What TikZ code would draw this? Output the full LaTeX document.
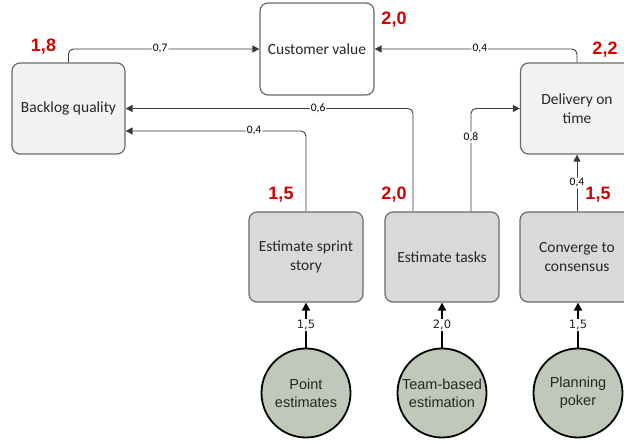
\documentclass[tikz,border=0pt]{standalone}
\usepackage{fontspec}
\setmainfont{Carlito}
\newfontfamily\circlefont{Liberation Sans}
\newfontfamily\scorefont{Liberation Sans}
\newfontfamily\weightfont{DejaVu Sans}
\usetikzlibrary{arrows.meta}
\definecolor{boxline}{HTML}{6A6A6A}
\definecolor{panel}{HTML}{F2F2F2}
\definecolor{stepgray}{HTML}{D9D9D9}
\definecolor{sage}{HTML}{BFC8B9}
\definecolor{linegray}{HTML}{3A3A3A}
\definecolor{scorered}{HTML}{D40000}
\definecolor{textdark}{HTML}{262626}
\begin{document}
\begin{tikzpicture}[x=1pt,y=-1pt,
  box/.style={draw=boxline, line width=1.2pt, rounded corners=8pt,
    minimum width=113pt, minimum height=91pt, align=center, text=textdark,
    inner sep=0pt, font=\fontsize{15.5}{19}\selectfont},
  topbox/.style={box, fill=panel},
  plainbox/.style={box, fill=white},
  stepbox/.style={box, fill=stepgray, minimum width=114pt, minimum height=90pt},
  method/.style={circle, draw=black, line width=1.8pt, fill=sage,
    minimum size=89pt, inner sep=0pt, align=center, text=textdark,
    font=\circlefont\fontsize{14.5}{18.3}\selectfont},
  link/.style={draw=linegray, line width=0.9pt, rounded corners=5pt,
    -{Triangle[length=7pt,width=7pt]}},
  feed/.style={draw=black, line width=1.6pt,
    -{Triangle[length=8pt,width=8pt]}},
  wlabel/.style={fill=white, inner sep=1pt, text=black,
    font=\fontsize{11.5}{12}\selectfont},
  blabel/.style={fill=white, inner sep=1pt, text=textdark,
    font=\weightfont\fontsize{11.5}{12}\selectfont},
  score/.style={text=scorered, font=\scorefont\bfseries\fontsize{18}{20}\selectfont}
]
\useasboundingbox (0,0) rectangle (624,443);
\clip (0,0) rectangle (624,443);

% outcome boxes
\node[topbox]   (backlog)  at (68.5,108.5) {Backlog quality};
\node[plainbox, minimum width=114pt, minimum height=92pt] (custval) at (317,49) {Customer value};
\node[topbox]   (delivery) at (577,108.5) {Delivery on\\time};

% practice boxes
\node[stepbox] (sprint)    at (306,257) {Estimate sprint\\story};
\node[stepbox] (tasks)     at (442,257) {Estimate tasks};
\node[stepbox] (consensus) at (577,257) {Converge to\\consensus};

% methods
\node[method] (points)  at (306,393) {Point\\estimates};
\node[method] (team)    at (442,393) {Team-based\\estimation};
\node[method] (poker)   at (578,393) {Planning\\poker};

% scores
\node[score] (sBacklog)   at (43.5,47)  {1,8};
\node[score] (sCustval)   at (394,20)   {2,0};
\node[score] (sDelivery)  at (605,49.5) {2,2};
\node[score] (sSprint)    at (281,195)  {1,5};
\node[score] (sTasks)     at (394,195)  {2,0};
\node[score] (sConsensus) at (598,195)  {1,5};

% weighted links between boxes
\draw[link] (backlog.north) |- node[wlabel,pos=0.74]{0,7} (custval.west);
\draw[link] (delivery.north) |- node[wlabel,pos=0.74]{0,4} (custval.east);
\draw[link] ([xshift=-29pt]tasks.north) |- node[wlabel,pos=0.665]{0,6} (backlog.east);
\draw[link] (sprint.north) |- node[wlabel,pos=0.644]{0,4} ([yshift=-22.5pt]backlog.east);
\draw[link] ([xshift=29pt]tasks.north) |- node[wlabel,pos=0.36]{0,8} (delivery.west);
\draw[link] (consensus.north) -- node[wlabel]{0,4} (delivery.south);

% methods feeding practices
\draw[feed] (points.north) -- node[blabel]{1,5} (sprint.south);
\draw[feed] (team.north) -- node[blabel]{2,0} (tasks.south);
\draw[feed] (poker.north) -- node[blabel]{1,5} (poker.north |- consensus.south);
\end{tikzpicture}
\end{document}
